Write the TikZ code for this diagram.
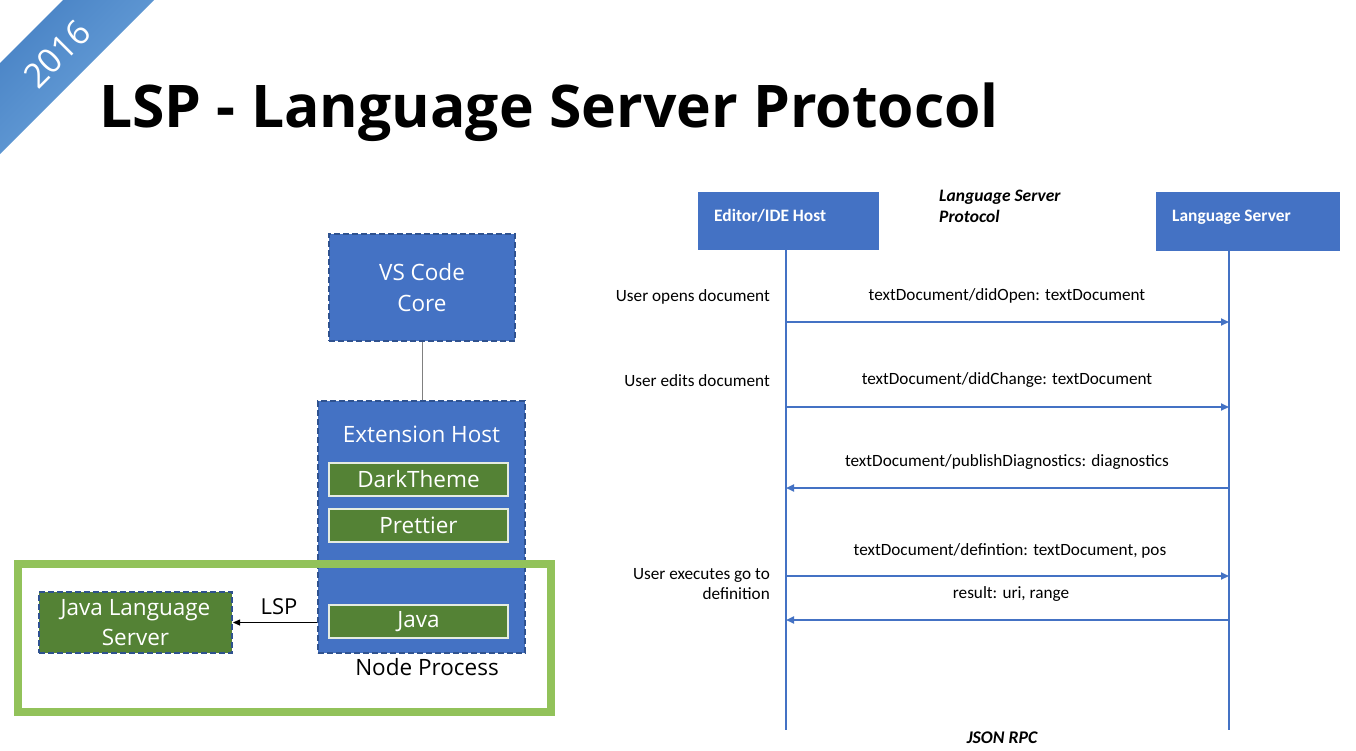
\documentclass[tikz,border=0pt]{standalone}
\usepackage{fontspec}
\setmainfont{Open Sans}
\newfontfamily\calib{Carlito}
\usetikzlibrary{arrows.meta}
\definecolor{boxblue}{HTML}{4472C4}
\definecolor{dashblue}{HTML}{2F528F}
\definecolor{boxgreen}{HTML}{548235}
\definecolor{framegreen}{HTML}{92C25A}
\definecolor{ribbonA}{HTML}{6FA6DD}
\definecolor{ribbonB}{HTML}{4A84C6}
\tikzset{
  corebox/.style={draw=dashblue, fill=boxblue, line width=2pt, dash pattern=on 6pt off 3pt, inner sep=0pt},
  plugbox/.style={draw=white!85!boxgreen, fill=boxgreen, line width=1.2pt, inner sep=0pt, text=white, font=\fontsize{22.5}{26}\selectfont},
  jlsbox/.style={draw=dashblue, fill=boxgreen, line width=2pt, dash pattern=on 6pt off 3pt, inner sep=0pt, text=white, align=center, font=\fontsize{22.5}{29.5}\selectfont},
  lbl/.style={text=white, font=\fontsize{22.5}{31}\selectfont, align=center},
  actor/.style={fill=boxblue, inner sep=0pt},
  actortext/.style={text=white, font=\calib\bfseries\fontsize{17.4}{20}\selectfont, anchor=base west, inner sep=0pt},
  msg/.style={font=\calib\fontsize{17.2}{19.5}\selectfont, inner sep=0pt},
  lifeline/.style={draw=boxblue, line width=2.4pt},
  call/.style={draw=boxblue, line width=1.8pt, -{Triangle[length=8pt,width=7pt]}},
}
\begin{document}
\begin{tikzpicture}[x=1pt,y=-1pt]
\useasboundingbox (0,0) rectangle (1356,750);
\fill[white] (0,0) rectangle (1356,750);
% ribbon
\shade[left color=ribbonB, right color=ribbonA, shading angle=45] (63,0) -- (154,0) -- (0,154) -- (0,63) -- cycle;
\node[rotate=45, text=white, font=\fontsize{34}{34}\selectfont, inner sep=0pt] (year) at (57,54) {2016};
% title
\node[anchor=base west, inner sep=0pt, font=\bfseries\fontsize{58.8}{62}\selectfont] (title) at (99,127) {LSP - Language Server Protocol};

% left diagram
\node[corebox, minimum width=186pt, minimum height=107pt] (core) at (422,287.5) {};
\node[lbl] (corelbl) at (422,288) {VS Code\\Core};
\node[corebox, minimum width=207pt, minimum height=252pt] (ext) at (421.5,527) {};
\draw[gray, line width=1pt] (core.south) -- (core.south |- ext.north);
\node[lbl] (extlbl) at (421.5,434) {Extension Host};
\node[plugbox, minimum width=179pt, minimum height=33pt] (dark) at (418.5,479.5) {DarkTheme};
\node[plugbox, minimum width=179pt, minimum height=33pt] (prettier) at (418.5,525.5) {Prettier};
\node[plugbox, minimum width=179pt, minimum height=33pt] (java) at (418.5,621.5) {Java};
\node[draw=framegreen, line width=8pt, minimum width=533pt, minimum height=148pt, inner sep=0pt] (frame) at (284,638) {};
\node[jlsbox, minimum width=193pt, minimum height=61pt] (jls) at (135.5,622.5) {Java Language\\Server};
\draw[line width=0.8pt, -{Triangle[length=7pt,width=6pt]}] (ext.west |- jls.east) -- (jls.east);
\node[font=\fontsize{22}{24}\selectfont] (lsp) at (279,607) {LSP};
\node[font=\fontsize{22.5}{25}\selectfont] (np) at (427,667) {Node Process};

% right diagram
\node[actor, minimum width=181pt, minimum height=58pt] (editor) at (788.5,221) {};
\node[actortext] (editorlbl) at (714,221) {Editor/IDE Host};
\node[actor, minimum width=184pt, minimum height=59pt] (server) at (1248,221.5) {};
\node[actortext] (serverlbl) at (1172,221) {Language Server};
\node[font=\calib\bfseries\itshape\fontsize{17.5}{21}\selectfont, align=left, anchor=north west, inner sep=0pt] (proto) at (939,190) {Language Server\\Protocol};
\coordinate (eb) at (786,730);
\coordinate (sb) at (1229,730);
\draw[lifeline] (786,250) -- (eb);
\draw[lifeline] (1229,251) -- (sb);
\coordinate (e1) at (786,322); \coordinate (s1) at (1229,322);
\coordinate (e2) at (786,407); \coordinate (s2) at (1229,407);
\coordinate (e3) at (786,488); \coordinate (s3) at (1229,488);
\coordinate (e4) at (786,576); \coordinate (s4) at (1229,576);
\coordinate (e5) at (786,620); \coordinate (s5) at (1229,620);
\draw[call] (e1) -- (s1);
\draw[call] (e2) -- (s2);
\draw[call] (s3) -- (e3);
\draw[call] (e4) -- (s4);
\draw[call] (s5) -- (e5);
\node[msg] (m1) at (1007,296) {textDocument/didOpen: textDocument};
\node[msg] (m2) at (1007,380) {textDocument/didChange: textDocument};
\node[msg] (m3) at (1007,462) {textDocument/publishDiagnostics: diagnostics};
\node[msg] (m4) at (1010,551) {textDocument/defintion: textDocument, pos};
\node[msg] (m5) at (1011,594) {result: uri, range};
\node[msg, anchor=east] (u1) at (770,297) {User opens document};
\node[msg, anchor=east] (u2) at (770,381) {User edits document};
\node[msg, anchor=east, align=right, font=\calib\fontsize{17.2}{19.5}\selectfont] (u3) at (770,584) {User executes go to\\definition};
\node[font=\calib\bfseries\itshape\fontsize{17.8}{18}\selectfont, inner sep=0pt] (json) at (1002,738) {JSON RPC};
\end{tikzpicture}
\end{document}
